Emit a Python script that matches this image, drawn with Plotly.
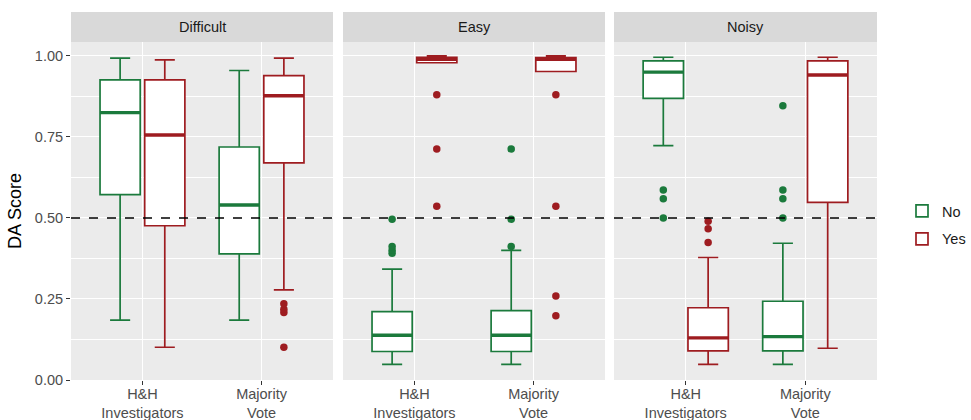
import plotly.graph_objects as go

# ---------------- data ----------------
facets = ["Difficult", "Easy", "Noisy"]
categories = ["H&H Investigators", "Majority Vote"]
category_labels = ["H&H<br>Investigators", "Majority<br>Vote"]
groups = ["No", "Yes"]
threshold = 0.5

# box statistics per facet, per category (order: H&H, Majority)
no_q1 = {"Difficult": [0.572, 0.389], "Easy": [0.088, 0.088], "Noisy": [0.869, 0.090]}
no_med = {"Difficult": [0.825, 0.540], "Easy": [0.138, 0.138], "Noisy": [0.950, 0.134]}
no_q3 = {"Difficult": [0.926, 0.719], "Easy": [0.211, 0.214], "Noisy": [0.985, 0.243]}
no_lo = {"Difficult": [0.185, 0.185], "Easy": [0.048, 0.048], "Noisy": [0.723, 0.048]}
no_hi = {"Difficult": [0.993, 0.955], "Easy": [0.342, 0.400], "Noisy": [0.996, 0.422]}
no_out = {
    "Difficult": [[], []],
    "Easy": [[0.496, 0.412, 0.400, 0.391], [0.713, 0.496, 0.412]],
    "Noisy": [[0.586, 0.559, 0.500], [0.846, 0.586, 0.559, 0.500]],
}

yes_q1 = {"Difficult": [0.476, 0.670], "Easy": [0.979, 0.952], "Noisy": [0.090, 0.548]}
yes_med = {"Difficult": [0.756, 0.877], "Easy": [0.990, 0.990], "Noisy": [0.130, 0.941]}
yes_q3 = {"Difficult": [0.926, 0.939], "Easy": [0.996, 0.995], "Noisy": [0.223, 0.985]}
yes_lo = {"Difficult": [0.101, 0.278], "Easy": [0.979, 0.952], "Noisy": [0.048, 0.098]}
yes_hi = {"Difficult": [0.988, 0.993], "Easy": [1.000, 1.000], "Noisy": [0.378, 0.996]}
yes_out = {
    "Difficult": [[], [0.235, 0.218, 0.208, 0.101]],
    "Easy": [[0.880, 0.713, 0.536], [0.880, 0.536, 0.259, 0.198]],
    "Noisy": [[0.490, 0.467, 0.424], []],
}

y_ticks = [0, 0.25, 0.5, 0.75, 1.0]

# ---------------- style ----------------
W, H = 971, 420
GREEN = "#1B7A3C"
RED = "#9E1C20"
FONT = "Liberation Sans, Arial, sans-serif"
TICK_SIZE = 14.5
panels_px = [(71, 333), (343, 605), (614, 877)]
plot_top, plot_bottom, strip_top = 42, 380, 12

fig = go.Figure()

stats = {
    "No": (no_q1, no_med, no_q3, no_lo, no_hi, no_out, GREEN),
    "Yes": (yes_q1, yes_med, yes_q3, yes_lo, yes_hi, yes_out, RED),
}


def pts(lists):
    # empty lists -> [None] so plotly.js keeps the 2-D (per-box) layout
    return [lst if lst else [None] for lst in lists]


for k, facet in enumerate(facets):
    xa = "x" if k == 0 else f"x{k+1}"
    ya = "y" if k == 0 else f"y{k+1}"
    for g in groups:
        q1, med, q3, lo, hi, out, col = stats[g]
        fig.add_trace(go.Box(
            x=categories, q1=q1[facet], median=med[facet], q3=q3[facet],
            lowerfence=lo[facet], upperfence=hi[facet], y=pts(out[facet]),
            boxpoints="outliers", pointpos=0, jitter=0,
            marker=dict(color=col, size=7.5, line=dict(width=0)),
            line=dict(color=col, width=1.7), fillcolor="white",
            name=g, legendgroup=g, showlegend=(k == 0),
            offsetgroup=g, alignmentgroup=facet,
            xaxis=xa, yaxis=ya, hoverinfo="skip",
        ))
    # thicker median lines (ggplot fatten)
    for g in groups:
        q1, med, q3, lo, hi, out, col = stats[g]
        fig.add_trace(go.Box(
            x=categories, q1=med[facet], median=med[facet], q3=med[facet],
            lowerfence=med[facet], upperfence=med[facet],
            boxpoints=False,
            line=dict(color=col, width=3.4), fillcolor="rgba(0,0,0,0)",
            name=g, legendgroup=g, showlegend=False,
            offsetgroup=g, alignmentgroup=facet,
            xaxis=xa, yaxis=ya, hoverinfo="skip",
        ))

layout = dict(
    width=W, height=H,
    margin=dict(l=0, r=0, t=0, b=0, autoexpand=False),
    paper_bgcolor="white", plot_bgcolor="#EBEBEB",
    boxmode="group", boxgap=0.25, boxgroupgap=0.1,
    font=dict(family=FONT, size=TICK_SIZE, color="#4D4D4D"),
    showlegend=True,
    legend=dict(x=902 / W, y=1 - 225 / H, xanchor="left", yanchor="middle",
                font=dict(size=TICK_SIZE, color="#1A1A1A"), bgcolor="rgba(0,0,0,0)",
                tracegroupgap=6),
)

ydom = [1 - plot_bottom / H, 1 - plot_top / H]
shapes = []
annotations = []
for k, facet in enumerate(facets):
    x0, x1 = panels_px[k]
    suffix = "" if k == 0 else str(k + 1)
    layout[f"xaxis{suffix}"] = dict(
        domain=[x0 / W, x1 / W], anchor=f"y{suffix}", automargin=False,
        type="category", categoryorder="array", categoryarray=categories,
        tickvals=categories, ticktext=category_labels,
        range=[-0.6, 1.6], showgrid=True, gridcolor="white", gridwidth=1.2,
        zeroline=False, showline=False,
        ticks="outside", ticklen=4, tickwidth=1, tickcolor="#333333",
        ticklabelstandoff=-3,
        tickfont=dict(size=TICK_SIZE, color="#4D4D4D"), fixedrange=True,
    )
    layout[f"yaxis{suffix}"] = dict(
        domain=ydom, anchor=f"x{suffix}", automargin=False,
        range=[0, 1.043], tickvals=y_ticks, tickformat=".2f",
        showgrid=True, gridcolor="white", gridwidth=1.2,
        minor=dict(dtick=0.125, tick0=0.125, showgrid=True, gridcolor="white", gridwidth=0.6),
        zeroline=False, showline=False,
        ticks="outside" if k == 0 else "", ticklen=4, tickwidth=1, tickcolor="#333333",
        showticklabels=(k == 0),
        tickfont=dict(size=TICK_SIZE, color="#4D4D4D"), fixedrange=True,
    )
    if k > 0:
        layout[f"yaxis{suffix}"]["matches"] = "y"
    # strip
    shapes.append(dict(type="rect", xref="paper", yref="paper",
                       x0=x0 / W, x1=x1 / W, y0=1 - plot_top / H, y1=1 - strip_top / H,
                       fillcolor="#D9D9D9", line=dict(width=0), layer="below"))
    annotations.append(dict(text=facet, xref="paper", yref="paper",
                            x=(x0 + x1) / 2 / W, y=1 - (plot_top + strip_top) / 2 / H,
                            showarrow=False, font=dict(size=TICK_SIZE, color="#1A1A1A"),
                            xanchor="center", yanchor="middle"))
    # dashed reference line
    shapes.append(dict(type="line", xref=f"x{suffix} domain", yref=f"y{suffix}",
                       x0=0, x1=1, y0=threshold, y1=threshold,
                       line=dict(color="black", width=1.6, dash="dash"), layer="above"))

layout["yaxis"]["title"] = dict(text="DA Score", font=dict(size=18, color="black"), standoff=8)
layout["shapes"] = shapes
layout["annotations"] = annotations
fig.update_layout(**layout)

fig.write_html(
    "out.html",
    config={"displayModeBar": False},
    post_script="document.body.style.margin='0';document.body.style.overflow='hidden';",
)
